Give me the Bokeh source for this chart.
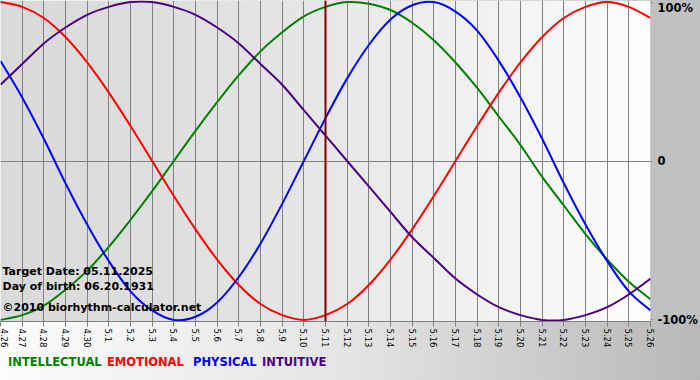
import numpy as np
from bokeh.plotting import figure
from bokeh.models import FixedTicker, Span, Label, Range1d, Div
from bokeh.layouts import column
from bokeh.embed import file_html
from bokeh.resources import INLINE

# ---------------- data ----------------
dates = ["4.26", "4.27", "4.28", "4.29", "4.30", "5.1", "5.2", "5.3", "5.4", "5.5",
         "5.6", "5.7", "5.8", "5.9", "5.10", "5.11", "5.12", "5.13", "5.14", "5.15",
         "5.16", "5.17", "5.18", "5.19", "5.20", "5.21", "5.22", "5.23", "5.24", "5.25", "5.26"]

intellectual = [-1.00, -0.97, -0.91, -0.81, -0.69, -0.54, -0.37, -0.19, 0.00, 0.19,
                0.37, 0.54, 0.69, 0.81, 0.91, 0.97, 1.00, 0.99, 0.95, 0.87,
                0.76, 0.62, 0.46, 0.28, 0.10, -0.10, -0.28, -0.46, -0.62, -0.76, -0.87]

emotional = [1.00, 0.97, 0.90, 0.78, 0.62, 0.43, 0.22, 0.00, -0.22, -0.43,
             -0.62, -0.78, -0.90, -0.97, -1.00, -0.97, -0.90, -0.78, -0.62, -0.43,
             -0.22, 0.00, 0.22, 0.43, 0.62, 0.78, 0.90, 0.97, 1.00, 0.97, 0.90]

physical = [0.63, 0.40, 0.14, -0.14, -0.40, -0.63, -0.82, -0.94, -1.00, -0.98,
            -0.89, -0.73, -0.52, -0.27, 0.00, 0.27, 0.52, 0.73, 0.89, 0.98,
            1.00, 0.94, 0.82, 0.63, 0.40, 0.14, -0.14, -0.40, -0.63, -0.82, -0.94]

intuitive = [0.48, 0.61, 0.74, 0.84, 0.92, 0.97, 1.00, 1.00, 0.97, 0.92,
             0.84, 0.74, 0.61, 0.48, 0.32, 0.16, 0.00, -0.16, -0.32, -0.48,
             -0.61, -0.74, -0.84, -0.92, -0.97, -1.00, -1.00, -0.97, -0.92, -0.84, -0.74]

series_names = ["INTELLECTUAL", "EMOTIONAL", "PHYSICAL", "INTUITIVE"]
target_label = "5.11"
y_ticks = [-1, 0, 1]
y_tick_labels = ["-100%", "0", "100%"]
info_lines = ["Target Date: 05.11.2025", "Day of birth: 06.20.1931",
              "\u00a92010 biorhythm-calculator.net"]

# ---------------- styling ----------------
series_values = [intellectual, emotional, physical, intuitive]
series_colors = ["#008000", "#ff0000", "#0000ff", "#4b0082"]
FONT = "DejaVu Sans"
W = 700
FIG_H = 350
LEG_H = 30
BORDER_RIGHT = 49
FRAME_H = 321
BORDER_BOTTOM = FIG_H - FRAME_H

band = "linear-gradient(to right, #fcfcfc 0%, #e4e4e4 50%, #b8b8b8 100%)"
fig_bg = ("linear-gradient(#c0c0c0, #c0c0c0) right top / %dpx %dpx no-repeat, %s"
          % (BORDER_RIGHT, FRAME_H, band))

x = list(range(len(dates)))

p = figure(width=W, height=FIG_H, output_backend="svg", toolbar_location=None,
           x_range=Range1d(0, len(dates) - 1), y_range=Range1d(-1.01, 1.01),
           y_axis_location="right",
           min_border_left=0, min_border_top=0,
           min_border_right=BORDER_RIGHT, min_border_bottom=BORDER_BOTTOM,
           styles={"background": fig_bg})
p.outline_line_color = None
p.border_fill_color = None
p.background_fill_color = None

# plot-area gradient background
ncol = 256
tt = np.linspace(0, 1, ncol)
cv = np.round(218 + 35 * tt ** 1.4).astype(np.uint32)
img = ((255 << 24) | (cv << 16) | (cv << 8) | cv).reshape(1, ncol).astype(np.uint32)
r_img = p.image_rgba(image=[img], x=0, y=-1.01, dw=len(dates) - 1, dh=2.02)
r_img.level = "image"

# grids
p.xgrid.ticker = FixedTicker(ticks=x)
p.xgrid.grid_line_color = "#808080"
p.xgrid.grid_line_alpha = 1.0
p.ygrid.ticker = FixedTicker(ticks=[0])
p.ygrid.grid_line_color = "#808080"
p.ygrid.grid_line_alpha = 1.0

# x axis
xa = p.xaxis[0]
xa.ticker = FixedTicker(ticks=x)
xa.major_label_overrides = {i: d for i, d in enumerate(dates)}
xa.major_label_orientation = -np.pi / 2
xa.major_label_text_font = FONT
xa.major_label_text_font_size = "8.5px"
xa.major_label_text_font_style = "normal"
xa.major_label_text_color = "#000000"
xa.major_label_standoff = 2
xa.axis_line_color = "#808080"
xa.major_tick_line_color = "#808080"
xa.major_tick_out = 5
xa.major_tick_in = 0
xa.minor_tick_line_color = None

# y axis (right)
ya = p.yaxis[0]
ya.ticker = FixedTicker(ticks=y_ticks)
ya.major_label_overrides = {t: l for t, l in zip(y_ticks, y_tick_labels)}
ya.major_label_text_font = FONT
ya.major_label_text_font_size = "11.5px"
ya.major_label_text_font_style = "bold"
ya.major_label_text_color = "#000000"
ya.major_label_standoff = 5
ya.axis_line_color = None
ya.major_tick_line_color = "#808080"
ya.major_tick_out = 2
ya.major_tick_in = 0
ya.minor_tick_line_color = None

# smooth curves (cubic Bezier through the daily values)
for vals, col in zip(series_values, series_colors):
    n = len(vals)
    xs = np.array(x, dtype=float)
    ys = np.array(vals, dtype=float)
    xp = np.concatenate([[xs[0]], xs, [xs[-1]]])
    yp = np.concatenate([[ys[0]], ys, [ys[-1]]])
    i = np.arange(n - 1)
    p.bezier(x0=xs[:-1], y0=ys[:-1], x1=xs[1:], y1=ys[1:],
             cx0=xs[:-1] + (xp[i + 2] - xp[i]) / 6, cy0=ys[:-1] + (yp[i + 2] - yp[i]) / 6,
             cx1=xs[1:] - (xp[i + 3] - xp[i + 1]) / 6, cy1=ys[1:] - (yp[i + 3] - yp[i + 1]) / 6,
             line_color=col, line_width=2)

# target day marker
p.add_layout(Span(location=dates.index(target_label), dimension="height",
                  line_color="#800000", line_width=2))

# info texts
for txt, yc in zip(info_lines, [271, 286, 307]):
    p.add_layout(Label(x=2, y=FRAME_H - yc, x_units="screen", y_units="screen",
                       text=txt, text_font=FONT, text_font_size="11px",
                       text_font_style="bold", text_color="#000000",
                       text_baseline="middle", text_align="left"))

# legend band
spans = "".join(
    '<span style="position:absolute;left:%dpx;top:5px;line-height:14px;color:%s;">%s</span>'
    % (lx, col, name)
    for name, col, lx in zip(series_names, series_colors, [8, 107, 193, 262]))
legend_html = ('<div style="position:relative;width:%dpx;height:%dpx;'
               'font-family:\'DejaVu Sans\';font-size:11.5px;font-weight:bold;'
               'white-space:nowrap;">%s</div>' % (W, LEG_H, spans))
leg = Div(text=legend_html, width=W, height=LEG_H, margin=0,
          styles={"background": band, "padding": "0", "overflow": "hidden"})

layout = column(p, leg, spacing=0, margin=0)
open("out.html", "w").write(file_html(layout, INLINE))
